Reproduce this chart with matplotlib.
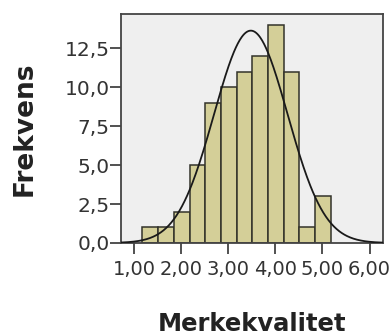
import numpy as np
import matplotlib
matplotlib.use("Agg")
import matplotlib.pyplot as plt
from matplotlib.ticker import FuncFormatter

# Data
bin_start = 1.18
bin_width = 1.0 / 3.0
counts = [1, 1, 2, 5, 9, 10, 11, 12, 14, 11, 1, 3]
x_ticks = [1, 2, 3, 4, 5, 6]
y_ticks = [0.0, 2.5, 5.0, 7.5, 10.0, 12.5]
fit_mean = 3.48
fit_sd = 0.78

fig = plt.figure(figsize=(3.91, 3.36), dpi=100)
ax = fig.add_axes([0.309, 0.277, 0.671, 0.681])
ax.set_facecolor("#EFEFEF")

edges = bin_start + bin_width * np.arange(len(counts) + 1)
ax.bar(edges[:-1], counts, width=bin_width, align="edge",
       color="#D4CF98", edgecolor="#33332A", linewidth=1.1, zorder=2)

n_total = sum(counts)
xs = np.linspace(0.72, 6.29, 400)
ys = n_total * bin_width / (fit_sd * np.sqrt(2 * np.pi)) * np.exp(-0.5 * ((xs - fit_mean) / fit_sd) ** 2)
ax.plot(xs, ys, color="#1A1A1A", linewidth=1.3, zorder=3)

ax.set_xlim(0.72, 6.29)
ax.set_ylim(0, 14.7)
ax.set_xticks(x_ticks)
ax.set_yticks(y_ticks)
ax.xaxis.set_major_formatter(FuncFormatter(lambda v, p: f"{v:.2f}".replace(".", ",")))
ax.yaxis.set_major_formatter(FuncFormatter(lambda v, p: f"{v:.1f}".replace(".", ",")))
ax.tick_params(axis="y", length=8, width=1.2, color="#333333", labelsize=14.5, pad=0, labelcolor="#333333")
ax.tick_params(axis="x", length=8, width=1.2, color="#333333", labelsize=14, pad=4, labelcolor="#333333")
for s in ax.spines.values():
    s.set_color("#444444")
    s.set_linewidth(1.3)

fig.text(0.063, 0.617, "Frekvens", rotation=90, ha="center", va="center",
         fontsize=19, fontweight="bold", color="#222222")
fig.text(0.645, 0.035, "Merkekvalitet", ha="center", va="center",
         fontsize=17.5, fontweight="bold", color="#222222")

fig.savefig("out.png", dpi=100)
